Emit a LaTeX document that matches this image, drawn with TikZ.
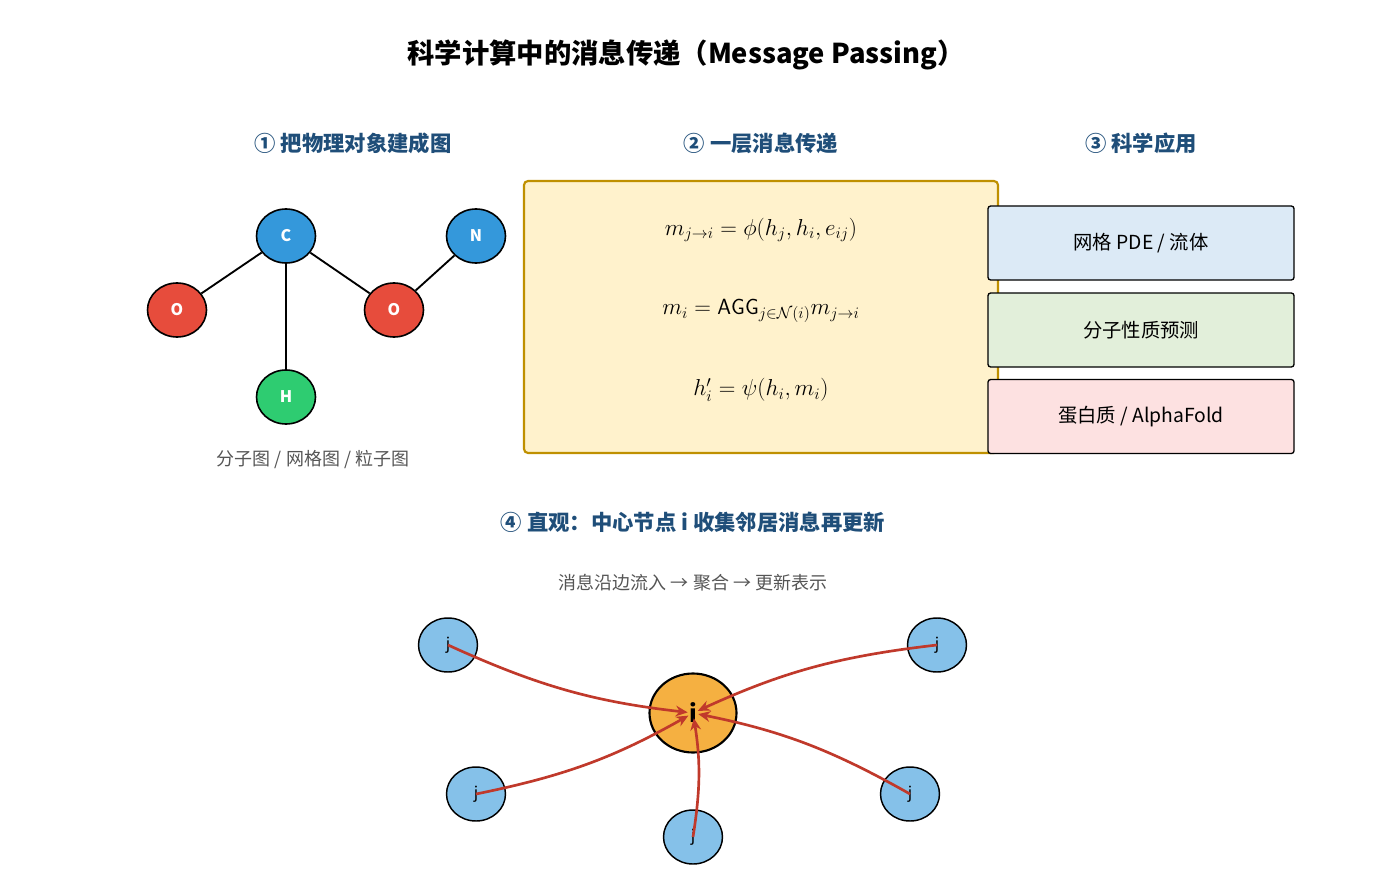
\documentclass[tikz,border=0pt]{standalone}
\usepackage{fontspec}
\setmainfont{Noto Sans CJK SC}
\usepackage{amsmath}
\usetikzlibrary{arrows.meta,shapes.geometric}
\definecolor{hdr}{HTML}{1F4E79}
\definecolor{cblue}{HTML}{3498DB}
\definecolor{cred}{HTML}{E74C3C}
\definecolor{cgreen}{HTML}{2ECC71}
\definecolor{jblue}{HTML}{85C1E9}
\definecolor{iorange}{HTML}{F5B041}
\definecolor{arr}{HTML}{C0392B}
\definecolor{ybox}{HTML}{FFF2CC}
\definecolor{yline}{HTML}{BF9000}
\definecolor{bbox}{HTML}{DCEAF6}
\definecolor{gbox}{HTML}{E2EFDA}
\definecolor{pbox}{HTML}{FDE1E1}
\definecolor{gtext}{HTML}{555555}
\begin{document}
\begin{tikzpicture}[x=0.75pt,y=-0.75pt,
  atom/.style={ellipse,draw=black,line width=1.2pt,minimum width=59pt*0.75,minimum height=54pt*0.75,inner sep=0pt,text=white,font=\bfseries\fontsize{12}{14}\selectfont},
  jn/.style={ellipse,draw=black,line width=1.1pt,fill=jblue,minimum width=59pt*0.75,minimum height=54pt*0.75,inner sep=0pt,font=\fontsize{12}{14}\selectfont},
  hd/.style={text=hdr,font=\bfseries\fontsize{16}{19}\selectfont},
  app/.style={draw=black,line width=1pt,rounded corners=2pt,minimum width=306*0.75pt,minimum height=74*0.75pt,font=\fontsize{14.5}{17}\selectfont},
  eq/.style={font=\fontsize{16.5}{20}\selectfont},
  bond/.style={line width=1.4pt},
  msg/.style={draw=arr,line width=2pt,-{Stealth[length=9pt,width=8pt]},bend right=9,shorten >=4pt}]
\useasboundingbox (0,0) rectangle (1385,895);
\node[font=\bfseries\fontsize{20.5}{24}\selectfont] (title) at (686,55) {科学计算中的消息传递（Message Passing）};
\node[hd] (h1) at (353,143) {① 把物理对象建成图};
\node[hd] (h2) at (761,143) {② 一层消息传递};
\node[hd] (h3) at (1141,143) {③ 科学应用};
% molecule
\node[atom,fill=cblue] (C) at (286,236) {C};
\node[atom,fill=cblue] (N) at (476,236) {N};
\node[atom,fill=cred] (O1) at (177,310) {O};
\node[atom,fill=cred] (O2) at (394,310) {O};
\node[atom,fill=cgreen] (H) at (286,397) {H};
\draw[bond] (C) -- (O1);
\draw[bond] (C) -- (O2);
\draw[bond] (O2) -- (N);
\draw[bond] (C) -- (H);
\node[text=gtext,font=\fontsize{13.5}{16}\selectfont] (cap) at (313,460) {分子图 / 网格图 / 粒子图};
% equations box
\node[draw=yline,fill=ybox,line width=1.6pt,rounded corners=3pt,minimum width=474*0.75pt,minimum height=272*0.75pt] (eqbox) at (761,317) {};
\node[eq] (e1) at (761,230) {$m_{j\to i}=\phi(h_j,h_i,e_{ij})$};
\node[eq] (e2) at (761,311) {$m_i=\mathsf{AGG}_{j\in\mathcal{N}(i)}m_{j\to i}$};
\node[eq] (e3) at (761,390) {$h_i'=\psi(h_i,m_i)$};
% apps
\node[app,fill=bbox] (a1) at (1141,243) {网格 PDE / 流体};
\node[app,fill=gbox] (a2) at (1141,330) {分子性质预测};
\node[app,fill=pbox] (a3) at (1141,416.5) {蛋白质 / AlphaFold};
% section 4
\node[hd] (h4) at (693,522) {④ 直观：中心节点 i 收集邻居消息再更新};
\node[text=gtext,font=\fontsize{13.5}{16}\selectfont] (sub) at (693,583) {消息沿边流入 → 聚合 → 更新表示};
\node[ellipse,draw=black,line width=1.6pt,fill=iorange,minimum width=87*0.75pt,minimum height=79*0.75pt,inner sep=0pt,font=\bfseries\fontsize{18}{20}\selectfont] (i) at (693,713) {i};
\node[jn] (j1) at (448,645) {j};
\node[jn] (j2) at (937,645) {j};
\node[jn] (j3) at (476,794) {j};
\node[jn] (j4) at (910,794) {j};
\node[jn] (j5) at (693,837) {j};
\draw[msg] (j1.center) to (i.center);
\draw[msg] (j2.center) to (i.center);
\draw[msg] (j3.center) to (i.center);
\draw[msg] (j4.center) to (i.center);
\draw[msg] (j5.center) to (i.center);
\end{tikzpicture}
\end{document}
